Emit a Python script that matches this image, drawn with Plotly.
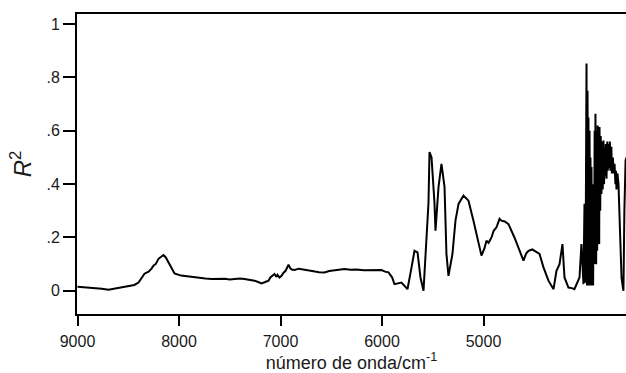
import plotly.graph_objects as go

wavenumber = [9000, 8900, 8833, 8760, 8695, 8600, 8498, 8440, 8399, 8370, 8340, 8300, 8271, 8250, 8230, 8202, 8170, 8153,
              8130, 8103, 8070, 8044, 7980, 7906, 7800, 7740, 7680, 7610, 7550, 7500, 7450, 7400, 7355, 7300, 7256,
              7220, 7187, 7150, 7118, 7100, 7080, 7059, 7040, 7030, 7010, 6990, 6970, 6950, 6921, 6905, 6890, 6862,
              6820, 6780, 6740, 6695, 6660, 6620, 6567, 6520, 6470, 6420, 6370, 6310, 6250, 6180, 6100, 6050, 6005,
              5970, 5936, 5900, 5877, 5808, 5749, 5709, 5680, 5650, 5621, 5591, 5562, 5542, 5532, 5512, 5483, 5473,
              5443, 5414, 5384, 5365, 5345, 5306, 5276, 5246, 5197, 5148, 5099, 5049, 5020, 4990, 4971, 4950, 4921,
              4900, 4872, 4842, 4823, 4790, 4754, 4695, 4645, 4606, 4580, 4557, 4520, 4498, 4448, 4409, 4360, 4310,
              4281, 4251, 4222, 4202, 4163, 4130, 4104, 4054, 4035, 4015, 4005, 3995, 3990, 3985, 3980, 3975, 3970,
              3966, 3960, 3955, 3950, 3946, 3940, 3936, 3930, 3925, 3920, 3916, 3910, 3905, 3900, 3897, 3890, 3885,
              3880, 3875, 3870, 3867, 3860, 3857, 3850, 3845, 3838, 3830, 3825, 3818, 3812, 3808, 3800, 3795, 3788,
              3780, 3775, 3769, 3760, 3755, 3749, 3740, 3735, 3725, 3719, 3709, 3700, 3695, 3690, 3680, 3670, 3660,
              3651, 3640, 3630, 3621, 3612, 3605, 3600, 3590]
r2 = [0.015, 0.013, 0.012, 0.008, 0.004, 0.010, 0.016, 0.022, 0.031, 0.048, 0.064, 0.072, 0.083, 0.095, 0.100, 0.120, 0.130, 0.134,
      0.125, 0.106, 0.080, 0.065, 0.057, 0.053, 0.047, 0.046, 0.044, 0.046, 0.045, 0.042, 0.043, 0.046, 0.044, 0.041, 0.038,
      0.033, 0.028, 0.033, 0.038, 0.050, 0.055, 0.063, 0.052, 0.060, 0.050, 0.056, 0.068, 0.075, 0.098, 0.085, 0.080, 0.078,
      0.083, 0.080, 0.076, 0.075, 0.072, 0.070, 0.069, 0.074, 0.076, 0.080, 0.082, 0.079, 0.080, 0.077, 0.078, 0.076, 0.078,
      0.072, 0.069, 0.050, 0.025, 0.031, 0.006, 0.088, 0.150, 0.144, 0.050, 0.000, 0.180, 0.330, 0.520, 0.500, 0.330, 0.225,
      0.390, 0.476, 0.390, 0.138, 0.056, 0.138, 0.263, 0.326, 0.357, 0.338, 0.263, 0.175, 0.132, 0.160, 0.188, 0.180, 0.200,
      0.225, 0.238, 0.270, 0.263, 0.260, 0.250, 0.200, 0.150, 0.113, 0.140, 0.150, 0.155, 0.150, 0.138, 0.088, 0.038, 0.006,
      0.075, 0.100, 0.175, 0.050, 0.012, 0.010, 0.006, 0.050, 0.175, 0.025, 0.326, 0.030, 0.700, 0.852, 0.020, 0.750, 0.050,
      0.650, 0.020, 0.600, 0.030, 0.500, 0.020, 0.464, 0.100, 0.400, 0.020, 0.300, 0.100, 0.600, 0.200, 0.664, 0.100, 0.600,
      0.150, 0.620, 0.200, 0.550, 0.175, 0.614, 0.300, 0.580, 0.363, 0.560, 0.380, 0.564, 0.400, 0.540, 0.430, 0.550, 0.420,
      0.560, 0.450, 0.550, 0.460, 0.560, 0.450, 0.540, 0.440, 0.500, 0.440, 0.476, 0.400, 0.450, 0.380, 0.440, 0.400, 0.300,
      0.150, 0.050, 0.020, 0.000, 0.300, 0.460, 0.490, 0.500]

x_ticks = [9000, 8000, 7000, 6000, 5000]
y_ticks = [0, 0.2, 0.4, 0.6, 0.8, 1]
y_tick_labels = ["0", ".2", ".4", ".6", ".8", "1"]

fig = go.Figure(go.Scatter(x=wavenumber, y=r2, mode="lines",
                           line=dict(color="black", width=2), showlegend=False))

fig.update_layout(
    width=626, height=373,
    margin=dict(l=77, r=0, t=14, b=59),
    paper_bgcolor="white", plot_bgcolor="white",
    font=dict(family="Liberation Sans, Arial, sans-serif", color="#1a1a1a"),
    xaxis=dict(range=[9005, 3596], tickvals=x_ticks, ticktext=[str(v) for v in x_ticks],
               ticks="outside", ticklen=10, tickwidth=2, tickcolor="black", ticklabelstandoff=2,
               showline=True, linecolor="black", linewidth=2, mirror=True,
               showgrid=False, zeroline=False, tickfont=dict(size=16),
               title=dict(text="número de onda/cm<sup>-1</sup>", font=dict(size=18), standoff=4)),
    yaxis=dict(range=[-0.087, 1.038], tickvals=y_ticks, ticktext=y_tick_labels,
               ticks="outside", ticklen=12, tickwidth=2, tickcolor="black",
               showline=True, linecolor="black", linewidth=2, mirror=False,
               showgrid=False, zeroline=False, tickfont=dict(size=16),
               title=dict(text="<i>R</i><sup>2</sup>", font=dict(size=24), standoff=8)),
)

fig.write_html("out.html")
